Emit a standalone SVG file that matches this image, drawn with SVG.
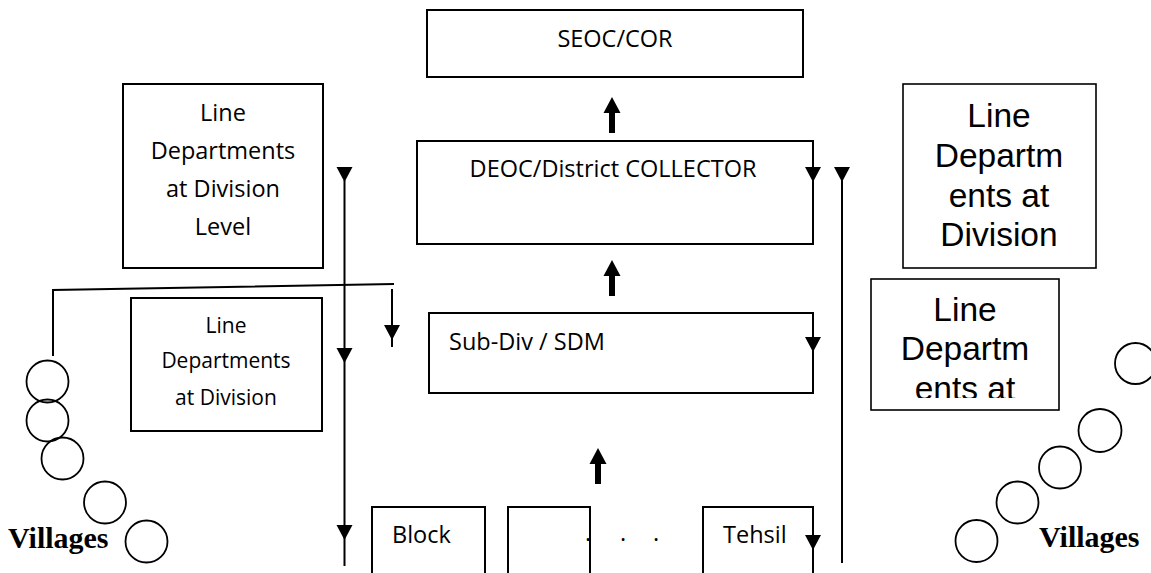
<svg xmlns="http://www.w3.org/2000/svg" xmlns:xlink="http://www.w3.org/1999/xlink" width="1151" height="573" viewBox="0 0 1151 573">
  <style>
    .box { fill: #fff; stroke: #000; stroke-width: 2; }
    .thin { fill: none; stroke: #000; stroke-width: 1.6; }
    .ln { fill: none; stroke: #000; stroke-width: 2; }
    .vil { fill: none; stroke: #000; stroke-width: 1.8; }
    .t { font-family: "Open Sans", "Noto Sans", sans-serif; font-size: 23.5px; fill: #000; }
    .ts { font-family: "Open Sans", "Noto Sans", sans-serif; font-size: 21px; fill: #000; }
    .ta { font-family: "Liberation Sans", Arial, sans-serif; font-size: 33.5px; fill: #000; }
    .tv { font-family: "Liberation Serif", "Times New Roman", serif; font-size: 30px; font-weight: bold; fill: #000; }
    .mid { text-anchor: middle; }
  </style>
  <defs>
    <!-- downward pointing arrowhead, tip at origin -->
    <path id="tri" d="M-8,-15 L8,-15 L0,0 Z" fill="#000"/>
    <!-- thick block arrow pointing up, apex at origin -->
    <path id="up" d="M0,0 L8.5,16 L3,16 L3,36 L-3,36 L-3,16 L-8.5,16 Z" fill="#000"/>
    <!-- text frame of the lower right box cuts off its last line -->
    <clipPath id="clipR2">
      <rect x="871" y="280" width="188" height="118"/>
    </clipPath>
  </defs>

  <rect width="1151" height="573" fill="#fff"/>

  <g id="seoc">
    <rect class="box" x="427" y="10" width="376" height="67"/>
    <text class="t mid" x="615" y="47">SEOC/COR</text>
  </g>

  <g id="deoc">
    <rect class="box" x="417" y="141" width="396" height="103"/>
    <text class="t mid" x="613" y="177">DEOC/District COLLECTOR</text>
  </g>

  <g id="subdiv">
    <rect class="box" x="429" y="313" width="384" height="80"/>
    <text class="t" x="449" y="350">Sub-Div / SDM</text>
  </g>

  <g id="line-dept-left-1">
    <rect class="box" x="123" y="84" width="200" height="184"/>
    <text class="t mid" x="223" y="121">Line</text>
    <text class="t mid" x="223" y="159">Departments</text>
    <text class="t mid" x="223" y="197">at Division</text>
    <text class="t mid" x="223" y="235">Level</text>
  </g>

  <g id="line-dept-left-2">
    <rect class="box" x="131" y="298" width="191" height="133"/>
    <text class="ts mid" x="226" y="333">Line</text>
    <text class="ts mid" x="226" y="368">Departments</text>
    <text class="ts mid" x="226" y="405">at Division</text>
  </g>

  <g id="line-dept-right-1">
    <rect class="thin" x="903" y="84" width="193" height="184"/>
    <text class="ta mid" x="999" y="127">Line</text>
    <text class="ta mid" x="999" y="167">Departm</text>
    <text class="ta mid" x="999" y="207">ents at</text>
    <text class="ta mid" x="999" y="246">Division</text>
  </g>

  <g id="line-dept-right-2">
    <rect class="thin" x="871" y="279" width="188" height="131"/>
    <g clip-path="url(#clipR2)">
      <text class="ta mid" x="965" y="321">Line</text>
      <text class="ta mid" x="965" y="360">Departm</text>
      <text class="ta mid" x="965" y="400">ents at</text>
    </g>
  </g>

  <g id="block">
    <polyline class="ln" points="372,575 372,507 485,507 485,575"/>
    <text class="t" x="392" y="543">Block</text>
  </g>

  <g id="unit-2">
    <polyline class="ln" points="508,575 508,507 590,507 590,575"/>
    <text class="t" x="585" y="541">.</text>
    <text class="t" x="620" y="541">.</text>
    <text class="t" x="653" y="541">.</text>
  </g>

  <g id="tehsil">
    <polyline class="ln" points="703,575 703,507 813,507 813,575"/>
    <text class="t" x="723" y="543">Tehsil</text>
  </g>

  <g id="villages-left">
    <circle class="vil" cx="47.5" cy="381.5" r="21"/>
    <circle class="vil" cx="47.5" cy="420.5" r="21"/>
    <circle class="vil" cx="62.5" cy="458.5" r="21"/>
    <circle class="vil" cx="105" cy="502.5" r="21"/>
    <circle class="vil" cx="146.5" cy="541.5" r="21"/>
    <text class="tv" x="8" y="548">Villages</text>
  </g>

  <g id="villages-right">
    <circle class="vil" cx="1135.5" cy="363.5" r="20.5"/>
    <circle class="vil" cx="1100" cy="430.5" r="21.5"/>
    <circle class="vil" cx="1060" cy="467.5" r="21"/>
    <circle class="vil" cx="1017.5" cy="502.5" r="21"/>
    <circle class="vil" cx="976.5" cy="541" r="21"/>
    <text class="tv" x="1039" y="547">Villages</text>
  </g>

  <!-- connectors, drawn over the boxes -->
  <g id="connectors">
    <!-- upward flow between levels -->
    <use xlink:href="#up" x="612" y="97"/>
    <use xlink:href="#up" x="612" y="260"/>
    <use xlink:href="#up" x="598" y="448"/>

    <!-- left trunk line -->
    <line class="ln" x1="344.5" y1="180" x2="344.5" y2="566"/>
    <use xlink:href="#tri" x="344.5" y="182"/>
    <use xlink:href="#tri" x="344.5" y="363"/>
    <use xlink:href="#tri" x="344.5" y="540"/>

    <!-- right trunk line -->
    <line class="ln" x1="842" y1="180" x2="842" y2="563"/>
    <use xlink:href="#tri" x="842" y="182"/>

    <!-- branch to the villages and sub-division -->
    <polyline class="ln" points="53,356 53,290 394,284"/>
    <line class="ln" x1="392" y1="289" x2="392" y2="347"/>
    <use xlink:href="#tri" x="392" y="340"/>

    <!-- arrowheads on the right edges of the boxes -->
    <use xlink:href="#tri" x="813" y="182"/>
    <use xlink:href="#tri" x="813" y="352"/>
    <use xlink:href="#tri" x="813" y="550"/>
  </g>
</svg>
